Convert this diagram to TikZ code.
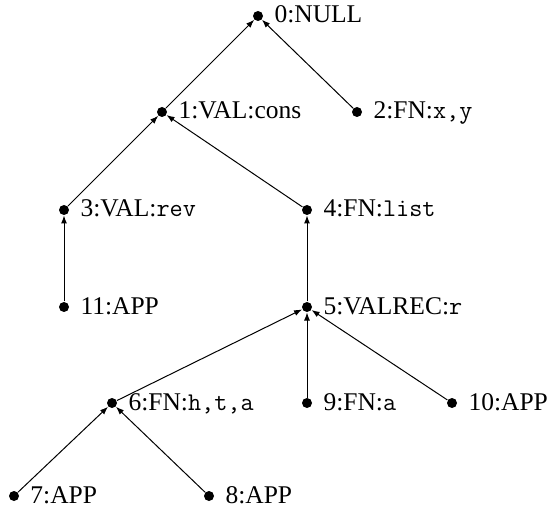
\documentclass[tikz,border=0pt]{standalone}
\usepackage{fontspec}
\setmainfont{Liberation Serif}
\usetikzlibrary{arrows.meta}

\begin{document}
\begin{tikzpicture}[>/.tip={Latex[length=8pt,width=6pt]},x=1pt,y=-1pt,line width=1pt,label distance=10.5pt,
	dot/.style={shape=circle,fill,inner sep=0pt,minimum size=10pt},
	every label/.style={font=\fontsize{25.5}{30}\selectfont,text height=16pt,text depth=2pt,inner sep=0pt}]
	\useasboundingbox (0,0) rectangle (547,508);
	\node (null) [dot,label={right:{0:NULL}}] at (258,16) {};
	\node (cons) [dot,label={right:{1:VAL:cons}}] at (162,112) {};
	\node (fnxy) [dot,label={right:{2:FN:\texttt{x,y}}}] at (357,112) {};
	\node (rev) [dot,label={right:{3:VAL:\texttt{rev}}}] at (64,210) {};
	\node (list) [dot,label={right:{4:FN:\texttt{list}}}] at (307,210) {};
	\node (valrec) [dot,label={right:{5:VALREC:\texttt{r}}}] at (307,307) {};
	\node (fnhta) [dot,label={right:{6:FN:\texttt{h,t,a}}}] at (112,403) {};
	\node (appl) [dot,label={right:{7:APP}}] at (14,496) {};
	\node (appr) [dot,label={right:{8:APP}}] at (209,496) {};
	\node (fna) [dot,label={right:{9:FN:\texttt{a}}}] at (307,403) {};
	\node (appv) [dot,label={right:{10:APP}}] at (452,403) {};
	\node (apprev) [dot,label={right:{11:APP}}] at (64,307) {};
	\draw[->] (cons) -- (null);
	\draw[->] (fnxy) -- (null);
	\draw[->] (rev) -- (cons);
	\draw[->] (list) -- (cons);
	\draw[->] (apprev) -- (rev);
	\draw[->] (valrec) -- (list);
	\draw[->] (fnhta) -- (valrec);
	\draw[->] (fna) -- (valrec);
	\draw[->] (appv) -- (valrec);
	\draw[->] (appl) -- (fnhta);
	\draw[->] (appr) -- (fnhta);
\end{tikzpicture}
\end{document}
